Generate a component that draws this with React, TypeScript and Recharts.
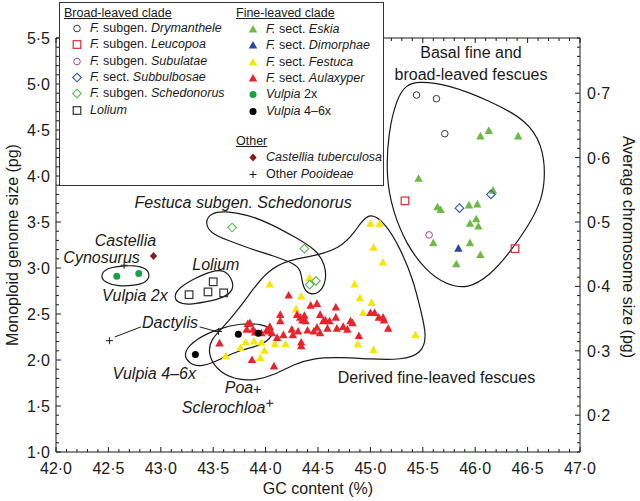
import React from "react";
import {
  ComposedChart,
  Line,
  ReferenceDot,
  ReferenceLine,
  Scatter,
  XAxis,
  YAxis,
} from "recharts";

const FONT = "'Liberation Sans', Arial, Helvetica, sans-serif";
const INK = "#1a1a1a";

// [GC content %, monoploid genome size pg]
const drymanthele = [[45.44, 4.88], [45.63, 4.84], [45.71, 4.46]];
const leucopoa = [[45.33, 3.73], [46.38, 3.21]];
const subulatae = [[45.56, 3.36]];
const subbulbosae = [[45.85, 3.65], [46.15, 3.8]];
const schedonorus = [[43.68, 3.44], [44.37, 3.21], [44.42, 2.82], [44.48, 2.86]];
const lolium = [[43.5, 2.85], [43.45, 2.74], [43.6, 2.73], [43.27, 2.71]];
const eskia = [
  [46.13, 4.49], [46.05, 4.43], [46.41, 4.43], [45.46, 3.97], [46.17, 3.84],
  [45.64, 3.66], [45.67, 3.63], [45.94, 3.68], [46.02, 3.69], [46.01, 3.53],
  [45.95, 3.48], [46.03, 3.45], [45.6, 3.27], [45.95, 3.27], [46.05, 3.14],
  [45.82, 3.04],
];
const dimorphae = [[45.84, 3.21]];
const festuca = [
  [45.0, 3.48], [45.09, 3.48], [45.03, 3.22], [45.12, 3.06], [44.04, 2.82],
  [44.34, 2.69], [44.85, 2.82], [44.9, 2.67], [45.01, 2.62], [44.29, 2.55],
  [44.93, 2.51], [45.43, 2.27], [44.88, 2.17], [45.03, 2.11], [44.42, 2.89],
  [43.76, 2.13], [43.81, 2.19], [43.89, 2.2], [43.96, 2.19], [43.99, 2.1],
  [44.09, 2.17], [44.19, 2.17], [43.95, 2.02], [43.62, 2.04],
];
const aulaxyper = [
  [44.22, 2.7], [44.43, 2.59], [44.49, 2.61], [44.67, 2.57], [44.14, 2.49],
  [44.33, 2.46], [44.37, 2.48], [44.52, 2.49], [44.67, 2.46], [44.14, 2.42],
  [44.38, 2.42], [44.57, 2.43], [44.61, 2.42], [44.81, 2.42], [43.85, 2.4],
  [44.04, 2.36], [44.25, 2.33], [44.31, 2.31], [44.4, 2.32], [44.49, 2.35],
  [44.52, 2.29], [44.59, 2.34], [44.68, 2.34], [44.74, 2.36], [44.78, 2.33],
  [44.83, 2.4], [44.17, 2.27], [44.11, 2.24], [44.26, 2.27], [44.34, 2.19],
  [44.34, 2.15], [44.89, 2.26], [45.0, 2.51], [45.04, 2.51], [45.08, 2.46],
  [45.12, 2.46], [45.13, 2.43], [45.17, 2.34], [44.01, 2.32], [44.06, 2.29],
  [43.96, 2.29], [43.87, 2.0], [44.08, 1.93], [43.9, 2.3], [43.56, 2.18],
  [43.83, 2.39], [43.88, 2.33], [44.03, 2.31], [44.3, 2.49], [44.35, 2.43],
  [44.55, 2.42], [44.46, 2.31], [43.82, 2.33],
];
const vulpia2x = [[42.58, 2.91], [42.79, 2.94]];
const vulpia46x = [[43.74, 2.28], [43.93, 2.29], [43.33, 2.06]];
const castellia = [[42.93, 3.13]];
const otherPooideae = [
  [42.65, 3.03], [42.51, 2.21], [43.55, 2.31], [43.92, 1.68], [44.04, 1.53],
];

// hand-drawn group outlines
const loopBasal = [
  [45.45, 5.03], [45.73, 5.0], [46.14, 4.82], [46.5, 4.6], [46.64, 4.33],
  [46.67, 4.03], [46.64, 3.74], [46.5, 3.44], [46.31, 3.14], [46.14, 2.92],
  [45.93, 2.77], [45.72, 2.82], [45.53, 2.97], [45.34, 3.26], [45.21, 3.63],
  [45.15, 3.99], [45.17, 4.47], [45.25, 4.84], [45.34, 4.99],
];
const loopDerived = [
  [44.98, 3.63], [45.15, 3.48], [45.29, 3.2], [45.41, 2.87], [45.48, 2.54],
  [45.54, 2.26], [45.49, 2.07], [45.3, 2.0], [45.0, 2.01], [44.71, 2.03],
  [44.45, 2.02], [44.26, 1.95], [44.09, 1.84], [43.9, 1.78], [43.76, 1.78],
  [43.57, 1.85], [43.45, 2.04], [43.47, 2.22], [43.6, 2.36], [43.74, 2.55],
  [43.88, 2.77], [44.02, 2.97], [44.22, 3.09], [44.47, 3.13], [44.7, 3.21],
  [44.85, 3.38],
];
const loopVulpia46 = [
  [43.21, 2.09], [43.26, 1.96], [43.39, 1.92], [43.57, 2.01], [43.76, 2.11],
  [43.93, 2.15], [44.05, 2.23], [44.08, 2.33], [43.97, 2.39], [43.76, 2.4],
  [43.55, 2.34], [43.35, 2.24],
];
const loopVulpia2x = [
  [42.42, 2.91], [42.48, 3.0], [42.61, 3.02], [42.75, 3.03], [42.86, 3.0],
  [42.9, 2.92], [42.86, 2.84], [42.75, 2.81], [42.59, 2.8], [42.47, 2.84],
];
const loopLolium = [
  [43.12, 2.7], [43.19, 2.8], [43.33, 2.89], [43.49, 2.97], [43.61, 2.98],
  [43.68, 2.88], [43.7, 2.76], [43.59, 2.67], [43.42, 2.63], [43.27, 2.6],
  [43.16, 2.62],
];
const loopSchedonorus = [
  [43.42, 3.5], [43.48, 3.6], [43.61, 3.62], [43.83, 3.58], [44.05, 3.48],
  [44.29, 3.33], [44.48, 3.2], [44.57, 3.04], [44.58, 2.85], [44.51, 2.72],
  [44.41, 2.71], [44.35, 2.8], [44.34, 2.98], [44.27, 3.05], [44.08, 3.13],
  [43.85, 3.21], [43.64, 3.3], [43.47, 3.38],
];

const dactylisLeaders = [
  [[42.56, 2.25], [42.81, 2.36]],
  [[43.37, 2.36], [43.53, 2.31]],
];

type Part = [string, boolean];
type Note = { x: number; y: number; anchor: "start" | "middle"; parts: Part[] };
const notes: Note[] = [
  { x: 42.75, y: 3.71, anchor: "start", parts: [["Festuca subgen. Schedonorus", true]] },
  { x: 42.37, y: 3.3, anchor: "start", parts: [["Castellia", true]] },
  { x: 42.07, y: 3.12, anchor: "start", parts: [["Cynosurus", true]] },
  { x: 42.44, y: 2.7, anchor: "start", parts: [["Vulpia 2x", true]] },
  { x: 43.3, y: 3.04, anchor: "start", parts: [["Lolium", true]] },
  { x: 42.82, y: 2.41, anchor: "start", parts: [["Dactylis", true]] },
  { x: 42.54, y: 1.85, anchor: "start", parts: [["Vulpia 4–6x", true]] },
  { x: 43.61, y: 1.7, anchor: "start", parts: [["Poa", true]] },
  { x: 43.2, y: 1.49, anchor: "start", parts: [["Sclerochloa", true]] },
  { x: 45.63, y: 1.815, anchor: "middle", parts: [["Derived fine-leaved fescues", false]] },
  { x: 45.96, y: 5.34, anchor: "middle", parts: [["Basal fine and", false]] },
  { x: 45.96, y: 5.1, anchor: "middle", parts: [["broad-leaved fescues", false]] },
];

const xTicks = Array.from({ length: 51 }, (_, i) => Math.round((42 + i * 0.1) * 10) / 10);
const yTicks = Array.from({ length: 46 }, (_, i) => Math.round((1 + i * 0.1) * 10) / 10);

type Kind = "ocircle" | "osquare" | "odiamond" | "tri" | "dot" | "fdiamond" | "plus";

function mark(kind: Kind, color: string, cx: number, cy: number) {
  switch (kind) {
    case "ocircle":
      return <circle cx={cx} cy={cy} r={3.3} fill="none" stroke={color} strokeWidth={1} />;
    case "osquare":
      return <rect x={cx - 3.8} y={cy - 3.8} width={7.6} height={7.6} fill="none" stroke={color} strokeWidth={1.2} />;
    case "odiamond":
      return (
        <polygon
          points={`${cx},${cy - 4.3} ${cx + 4.3},${cy} ${cx},${cy + 4.3} ${cx - 4.3},${cy}`}
          fill="none"
          stroke={color}
          strokeWidth={1.1}
        />
      );
    case "tri":
      return <polygon points={`${cx},${cy - 4.6} ${cx + 4.2},${cy + 3} ${cx - 4.2},${cy + 3}`} fill={color} />;
    case "dot":
      return <circle cx={cx} cy={cy} r={3.5} fill={color} />;
    case "fdiamond":
      return <polygon points={`${cx},${cy - 4} ${cx + 3.6},${cy} ${cx},${cy + 4} ${cx - 3.6},${cy}`} fill={color} />;
    default:
      return (
        <g stroke={color} strokeWidth={1}>
          <line x1={cx - 3.5} x2={cx + 3.5} y1={cy} y2={cy} />
          <line x1={cx} x2={cx} y1={cy - 3.5} y2={cy + 3.5} />
        </g>
      );
  }
}

type Series = { name: string; data: number[][]; kind: Kind; color: string };
const series: Series[] = [
  { name: "festuca", data: festuca, kind: "tri", color: "#f7e600" },
  { name: "aulaxyper", data: aulaxyper, kind: "tri", color: "#e8232b" },
  { name: "eskia", data: eskia, kind: "tri", color: "#6cb944" },
  { name: "dimorphae", data: dimorphae, kind: "tri", color: "#2747a0" },
  { name: "drymanthele", data: drymanthele, kind: "ocircle", color: "#333333" },
  { name: "leucopoa", data: leucopoa, kind: "osquare", color: "#e3262f" },
  { name: "subulatae", data: subulatae, kind: "ocircle", color: "#a2409c" },
  { name: "subbulbosae", data: subbulbosae, kind: "odiamond", color: "#2c56ad" },
  { name: "schedonorus", data: schedonorus, kind: "odiamond", color: "#55b84f" },
  { name: "lolium", data: lolium, kind: "osquare", color: "#333333" },
  { name: "vulpia2x", data: vulpia2x, kind: "dot", color: "#18a148" },
  { name: "vulpia46x", data: vulpia46x, kind: "dot", color: "#000000" },
  { name: "castellia", data: castellia, kind: "fdiamond", color: "#8a1c1c" },
  { name: "other", data: otherPooideae, kind: "plus", color: INK },
];

const loops = [loopBasal, loopDerived, loopVulpia46, loopVulpia2x, loopLolium, loopSchedonorus];

const toPts = (a: number[][]) => a.map(([x, y]) => ({ x, y }));
const fmt = (v: number) => v.toFixed(1).replace(".", "·");
const onStep = (v: number, step: number) => Math.abs(v / step - Math.round(v / step)) < 1e-6;

const legendLeft: [Kind, string, Part[]][] = [
  ["ocircle", "#333333", [["F.", true], [" subgen. ", false], ["Drymanthele", true]]],
  ["osquare", "#e3262f", [["F.", true], [" subgen. ", false], ["Leucopoa", true]]],
  ["ocircle", "#a2409c", [["F.", true], [" subgen. ", false], ["Subulatae", true]]],
  ["odiamond", "#2c56ad", [["F.", true], [" sect. ", false], ["Subbulbosae", true]]],
  ["odiamond", "#55b84f", [["F.", true], [" subgen. ", false], ["Schedonorus", true]]],
  ["osquare", "#333333", [["Lolium", true]]],
];
const legendRight: [Kind, string, Part[]][] = [
  ["tri", "#6cb944", [["F.", true], [" sect. ", false], ["Eskia", true]]],
  ["tri", "#2747a0", [["F.", true], [" sect. ", false], ["Dimorphae", true]]],
  ["tri", "#f7e600", [["F.", true], [" sect. ", false], ["Festuca", true]]],
  ["tri", "#e8232b", [["F.", true], [" sect. ", false], ["Aulaxyper", true]]],
  ["dot", "#18a148", [["Vulpia", true], [" 2x", false]]],
  ["dot", "#000000", [["Vulpia", true], [" 4–6x", false]]],
];
const legendOther: [Kind, string, Part[]][] = [
  ["fdiamond", "#8a1c1c", [["Castellia tuberculosa", true]]],
  ["plus", INK, [["Other ", false], ["Pooideae", true]]],
];

function Parts({ parts }: { parts: Part[] }) {
  return (
    <>
      {parts.map(([t, it], i) => (
        <span key={i} style={{ fontStyle: it ? "italic" : "normal" }}>{t}</span>
      ))}
    </>
  );
}

function LegendRow({ item, top, mx, tx }: { item: [Kind, string, Part[]]; top: number; mx: number; tx: number }) {
  return (
    <>
      <svg width={12} height={12} style={{ position: "absolute", left: mx - 6, top: top - 6 }}>
        {mark(item[0], item[1], 6, 6.5)}
      </svg>
      <div style={{ position: "absolute", left: tx, top: top - 8, lineHeight: "16px", whiteSpace: "pre" }}>
        <Parts parts={item[2]} />
      </div>
    </>
  );
}

function Legend() {
  const head = (t: string, left: number, top: number) => (
    <div style={{ position: "absolute", left, top: top - 8, lineHeight: "16px", textDecoration: "underline" }}>{t}</div>
  );
  return (
    <div
      style={{
        position: "absolute", left: 59, top: 2, width: 323, height: 182,
        border: "1px solid #333", background: "#fff", fontSize: 12.5, color: INK,
      }}
    >
      {head("Broad-leaved clade", 4, 10)}
      {legendLeft.map((it, i) => (
        <LegendRow key={i} item={it} top={25 + i * 16.3} mx={17} tx={30} />
      ))}
      {head("Fine-leaved clade", 176, 10)}
      {legendRight.map((it, i) => (
        <LegendRow key={i} item={it} top={26 + i * 16.3} mx={193} tx={206} />
      ))}
      {head("Other", 176, 138)}
      {legendOther.map((it, i) => (
        <LegendRow key={i} item={it} top={154 + i * 16.7} mx={193} tx={206} />
      ))}
    </div>
  );
}

const tickText = { fontSize: 16, fontFamily: FONT, fill: INK };

function BottomTick(p: any) {
  const { x, y, payload } = p;
  const major = onStep(payload.value, 0.5);
  return (
    <g>
      <line x1={x} x2={x} y1={y} y2={y - (major ? 5 : 3)} stroke={INK} />
      {major && <text x={x} y={y + 22} textAnchor="middle" {...tickText}>{fmt(payload.value)}</text>}
    </g>
  );
}
function TopTick(p: any) {
  const { x, y, payload } = p;
  const major = onStep(payload.value, 0.5);
  return <line x1={x} x2={x} y1={y} y2={y + (major ? 5 : 3)} stroke={INK} />;
}
function LeftTick(p: any) {
  const { x, y, payload } = p;
  const major = onStep(payload.value, 0.5);
  return (
    <g>
      <line x1={x} x2={x + (major ? 5 : 3)} y1={y} y2={y} stroke={INK} />
      {major && <text x={x - 6} y={y + 6} textAnchor="end" {...tickText}>{fmt(payload.value)}</text>}
    </g>
  );
}
function RightTick(p: any) {
  const { x, y, payload } = p;
  const major = onStep(payload.value, 0.7);
  return (
    <g>
      <line x1={x} x2={x - (major ? 5 : 3)} y1={y} y2={y} stroke={INK} />
      {major && <text x={x + 7} y={y + 6} textAnchor="start" {...tickText}>{fmt(payload.value / 7)}</text>}
    </g>
  );
}

export default function App() {
  return (
    <div style={{ position: "absolute", left: 0, top: 0, width: 640, height: 501, background: "#fff", fontFamily: FONT, color: INK }}>
      <ComposedChart width={640} height={501} margin={{ top: 28, right: 15, bottom: 4, left: 6 }}>
        <XAxis
          xAxisId="b" type="number" dataKey="x" domain={[42, 47]} ticks={xTicks} interval={0}
          allowDataOverflow tickSize={0} tickMargin={0} tickLine={false} tick={BottomTick}
          axisLine={{ stroke: INK }} height={45}
        />
        <XAxis
          xAxisId="t" orientation="top" type="number" dataKey="x" domain={[42, 47]} ticks={xTicks}
          interval={0} allowDataOverflow tickSize={0} tickMargin={0} tickLine={false} tick={TopTick}
          axisLine={{ stroke: INK }} height={10}
        />
        <YAxis
          yAxisId="l" type="number" dataKey="y" domain={[1, 5.5]} ticks={yTicks} interval={0}
          allowDataOverflow tickSize={0} tickMargin={0} tickLine={false} tick={LeftTick}
          axisLine={{ stroke: INK }} width={50}
        />
        <YAxis
          yAxisId="r" orientation="right" type="number" dataKey="y" domain={[1, 5.5]} ticks={yTicks}
          interval={0} allowDataOverflow tickSize={0} tickMargin={0} tickLine={false} tick={RightTick}
          axisLine={{ stroke: INK }} width={45}
        />
        {loops.map((lp, i) => (
          <Line
            key={"loop" + i} xAxisId="b" yAxisId="l" data={toPts(lp)} dataKey="y" type="basisClosed"
            stroke={INK} strokeWidth={1.2} dot={false} activeDot={false} isAnimationActive={false}
          />
        ))}
        {dactylisLeaders.map((seg, i) => (
          <ReferenceLine
            key={"lead" + i} xAxisId="b" yAxisId="l" ifOverflow="visible"
            segment={[{ x: seg[0][0], y: seg[0][1] }, { x: seg[1][0], y: seg[1][1] }]}
            stroke={INK} strokeWidth={1}
          />
        ))}
        {series.map((s) => (
          <Scatter
            key={s.name} name={s.name} xAxisId="b" yAxisId="l" data={toPts(s.data)}
            isAnimationActive={false}
            shape={(p: any) => mark(s.kind, s.color, p.cx, p.cy)}
          />
        ))}
        {notes.map((n, i) => (
          <ReferenceDot
            key={"note" + i} xAxisId="b" yAxisId="l" x={n.x} y={n.y} r={0} ifOverflow="visible"
            shape={(p: any) => (
              <text x={p.cx} y={p.cy} dy="0.35em" textAnchor={n.anchor} fontSize={16} fontFamily={FONT} fill={INK} style={{ whiteSpace: "pre" }}>
                {n.parts.map(([t, it], j) => (
                  <tspan key={j} fontStyle={it ? "italic" : "normal"}>{t}</tspan>
                ))}
              </text>
            )}
          />
        ))}
      </ComposedChart>
      <Legend />
      <div style={{ position: "absolute", left: 318, top: 489, transform: "translate(-50%, -50%)", fontSize: 16, whiteSpace: "nowrap" }}>
        GC content (%)
      </div>
      <div style={{ position: "absolute", left: 13, top: 245, transform: "translate(-50%, -50%) rotate(-90deg)", fontSize: 16, whiteSpace: "nowrap" }}>
        Monoploid genome size (pg)
      </div>
      <div style={{ position: "absolute", left: 628, top: 247, transform: "translate(-50%, -50%) rotate(90deg)", fontSize: 16, whiteSpace: "nowrap" }}>
        Average chromosome size (pg)
      </div>
    </div>
  );
}
